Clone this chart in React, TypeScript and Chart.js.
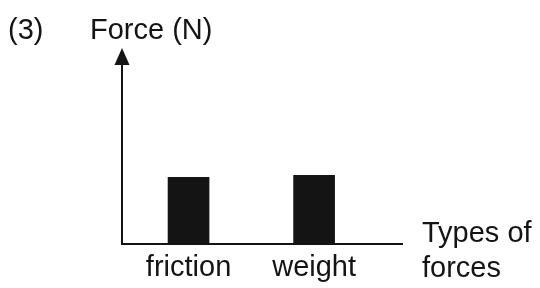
import React, { useEffect, useRef } from "react";
import { Chart, registerables } from "chart.js";

Chart.register(...registerables);

const categories = ["friction", "weight"];
const forceValues = [3.4, 3.5];
const yAxisTitle = "Force (N)";
const xAxisTitleLines = ["Types of", "forces"];
const figureNumber = "(3)";

const FONT = "Liberation Sans, Arial, Helvetica, sans-serif";
const INK = "#141414";
const FONT_SIZE = 29;

const annotatePlugin = {
  id: "annotate",
  afterDraw(chart: any) {
    const { ctx, chartArea } = chart;
    const left = chartArea.left;
    const top = chartArea.top;
    ctx.save();
    // y axis with arrow
    ctx.strokeStyle = INK;
    ctx.fillStyle = INK;
    ctx.lineWidth = 2;
    ctx.beginPath();
    ctx.moveTo(left, chartArea.bottom + 1);
    ctx.lineTo(left, top + 10);
    ctx.stroke();
    ctx.beginPath();
    ctx.moveTo(left, top);
    ctx.lineTo(left - 7.5, top + 17);
    ctx.lineTo(left + 7.5, top + 17);
    ctx.closePath();
    ctx.fill();
    // texts
    ctx.font = `${FONT_SIZE}px ${FONT}`;
    ctx.textBaseline = "alphabetic";
    ctx.textAlign = "left";
    ctx.fillText(figureNumber, 8, 39);
    ctx.fillText(yAxisTitle, left - 32, 39);
    const tx = chartArea.right + 20;
    ctx.fillText(xAxisTitleLines[0], tx, 242);
    ctx.fillText(xAxisTitleLines[1], tx, 277);
    ctx.restore();
  },
};

export default function App() {
  const ref = useRef<HTMLCanvasElement>(null);
  useEffect(() => {
    if (!ref.current) return;
    const chart = new Chart(ref.current, {
      type: "bar",
      data: {
        datasets: [
          {
            data: categories.map((_, i) => ({ x: i + 1, y: forceValues[i] })),
            backgroundColor: INK,
            borderWidth: 0,
            barThickness: 41,
          },
        ],
      },
      options: {
        animation: false,
        responsive: false,
        maintainAspectRatio: false,
        layout: { padding: { left: 122, right: 138, top: 48, bottom: 0 } },
        plugins: { legend: { display: false }, tooltip: { enabled: false }, title: { display: false } },
        scales: {
          x: {
            type: "linear",
            min: 0.47,
            max: 2.7,
            offset: false,
            grid: { display: false, drawTicks: false },
            border: { display: true, color: INK, width: 2 },
            afterBuildTicks: (scale: any) => {
              scale.ticks = categories.map((_, i) => ({ value: i + 1 }));
            },
            afterFit: (scale: any) => {
              scale.height = 44;
            },
            ticks: {
              autoSkip: false,
              maxRotation: 0,
              padding: 7,
              color: INK,
              font: { family: FONT, size: FONT_SIZE },
              callback: (v: any) => categories[Math.round(Number(v)) - 1] ?? "",
            },
          },
          y: {
            display: false,
            min: 0,
            max: 10,
          },
        },
      },
      plugins: [annotatePlugin],
    } as any);
    return () => chart.destroy();
  }, []);
  return (
    <div style={{ position: "fixed", left: 0, top: 0, width: 540, height: 288, background: "#fff" }}>
      <canvas ref={ref} width={540} height={288} style={{ width: 540, height: 288, display: "block" }} />
    </div>
  );
}
